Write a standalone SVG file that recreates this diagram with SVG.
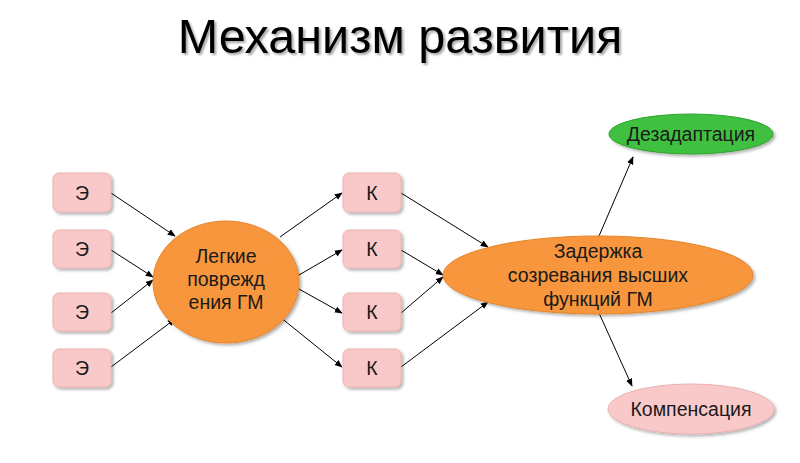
<svg xmlns="http://www.w3.org/2000/svg" width="800" height="463" viewBox="0 0 800 463">
<defs>
<filter id="sh" x="-20%" y="-20%" width="150%" height="150%">
<feDropShadow dx="2" dy="2" stdDeviation="1.5" flood-color="#000" flood-opacity="0.3"/>
</filter>
<filter id="tsh" x="-5%" y="-20%" width="110%" height="150%">
<feDropShadow dx="2" dy="2" stdDeviation="1.2" flood-color="#000" flood-opacity="0.35"/>
</filter>
<marker id="ar" viewBox="0 0 10 10" refX="9" refY="5" markerWidth="8" markerHeight="8" orient="auto" markerUnits="userSpaceOnUse">
<path d="M0,1 L10,5 L0,9 Z" fill="#000"/>
</marker>
</defs>
<style>
.box{fill:#f9c9c9;stroke:#eab0b0;stroke-width:1;filter:url(#sh)}
.org{fill:#f7963c;stroke:#e5842a;stroke-width:1;filter:url(#sh)}
.grn{fill:#40c040;stroke:#2fa32f;stroke-width:1;filter:url(#sh)}
.pnk{fill:#f9c9c9;stroke:#eab0b0;stroke-width:1;filter:url(#sh)}
.t{font-family:"Liberation Sans",Arial,sans-serif;font-size:19.5px;fill:#1a1a1a;text-anchor:middle}
.c line{stroke:#000;stroke-width:1;marker-end:url(#ar)}
</style>
<rect width="800" height="463" fill="#fff"/>
<text x="400" y="53" font-family="'Liberation Sans',Arial,sans-serif" font-size="48.5" text-anchor="middle" fill="#000" filter="url(#tsh)">Механизм развития</text>
<g class="c" id="connectors">
<line x1="111" y1="193" x2="175" y2="236"/>
<line x1="111" y1="250" x2="153" y2="277"/>
<line x1="111" y1="313" x2="153" y2="280"/>
<line x1="111" y1="367" x2="175" y2="319"/>
<line x1="280" y1="237" x2="342" y2="193"/>
<line x1="299" y1="275" x2="342" y2="250"/>
<line x1="299" y1="289" x2="342" y2="313"/>
<line x1="280" y1="317" x2="342" y2="367"/>
<line x1="401" y1="193" x2="488" y2="247"/>
<line x1="401" y1="250" x2="443" y2="275"/>
<line x1="401" y1="313" x2="443" y2="277"/>
<line x1="401" y1="367" x2="488" y2="302"/>
<line x1="599" y1="236" x2="633" y2="157"/>
<line x1="599" y1="313" x2="632" y2="386"/>
</g>
<g id="e1"><rect class="box" x="53" y="173" width="58" height="39" rx="6"/><text class="t" x="82" y="200">Э</text></g>
<g id="e2"><rect class="box" x="53" y="230" width="58" height="38" rx="6"/><text class="t" x="82" y="256">Э</text></g>
<g id="e3"><rect class="box" x="53" y="293" width="58" height="38" rx="6"/><text class="t" x="82" y="319">Э</text></g>
<g id="e4"><rect class="box" x="53" y="349" width="58" height="38" rx="6"/><text class="t" x="82" y="375">Э</text></g>
<g id="injury"><ellipse class="org" cx="226" cy="282" rx="73" ry="61"/>
<text class="t" x="226" y="263">Легкие</text>
<text class="t" x="226" y="286">поврежд</text>
<text class="t" x="226" y="309">ения ГМ</text></g>
<g id="k1"><rect class="box" x="343" y="173" width="58" height="39" rx="6"/><text class="t" x="372" y="200">К</text></g>
<g id="k2"><rect class="box" x="343" y="230" width="58" height="38" rx="6"/><text class="t" x="372" y="256">К</text></g>
<g id="k3"><rect class="box" x="343" y="293" width="58" height="38" rx="6"/><text class="t" x="372" y="319">К</text></g>
<g id="k4"><rect class="box" x="343" y="349" width="58" height="38" rx="6"/><text class="t" x="372" y="375">К</text></g>
<g id="delay"><ellipse class="org" cx="598" cy="275" rx="155" ry="39"/>
<text class="t" x="598" y="258">Задержка</text>
<text class="t" x="598" y="282">созревания высших</text>
<text class="t" x="598" y="306">функций ГМ</text></g>
<g id="dez"><ellipse class="grn" cx="691" cy="134" rx="82" ry="20"/><text class="t" x="691" y="141" font-size="19">Дезадаптация</text></g>
<g id="komp"><ellipse class="pnk" cx="691" cy="409" rx="83" ry="25"/><text class="t" x="691" y="416" font-size="18.7">Компенсация</text></g>
</svg>
